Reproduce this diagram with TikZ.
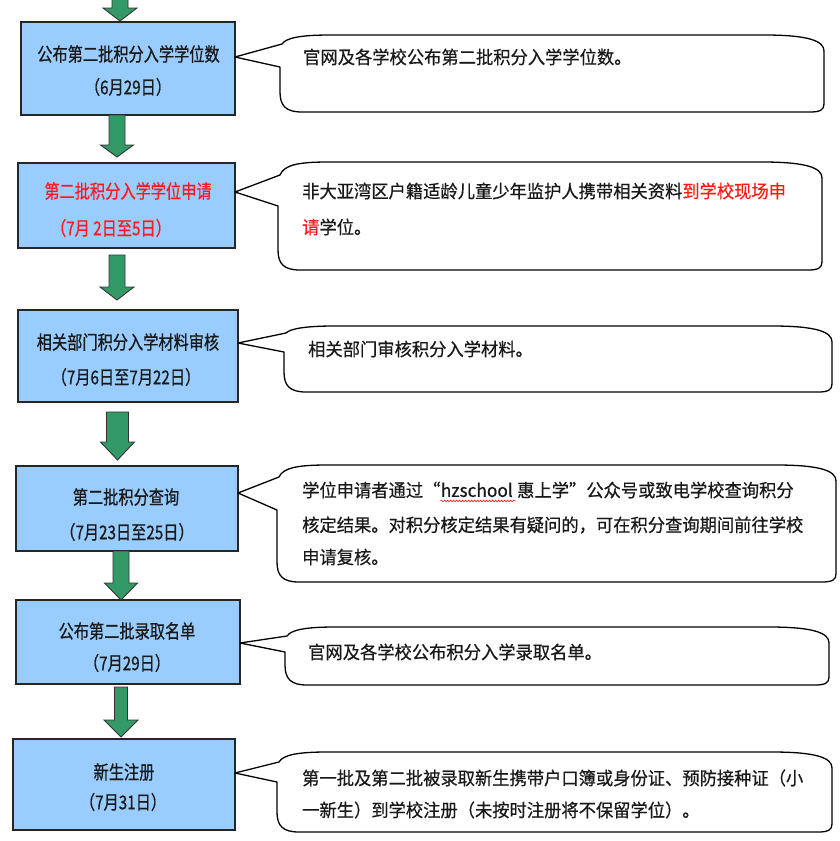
\documentclass[tikz,border=0pt]{standalone}
\usepackage{fontspec}
\setmainfont{Noto Sans CJK SC}
\newfontfamily\boxfont[FakeStretch=0.8,FakeBold=0.6]{Noto Sans CJK SC}
\newfontfamily\bubfont[FakeStretch=0.96,FakeBold=0.5]{Noto Sans CJK SC}
\usetikzlibrary{calc,decorations.pathmorphing}
\definecolor{boxblue}{HTML}{99CCFF}
\definecolor{arrgreen}{HTML}{339966}
\definecolor{hired}{HTML}{FF1A1A}
\tikzset{
  stepbox/.style={draw=black!85, line width=1.4pt, fill=boxblue, inner sep=0pt},
  boxtext/.style={font=\boxfont\fontsize{19}{21}\selectfont, inner sep=0pt, text=black!90},
  redtext/.style={boxtext, text=hired},
  bubtext/.style={font=\bubfont\fontsize{18}{20}\selectfont, inner sep=0pt, anchor=west, text=black!90},
  bubble/.style={draw=black, line width=1.3pt, fill=white, line join=round},
  flowfill/.style={draw=black!80, line width=0.9pt, fill=arrgreen, line join=miter},
  squiggle/.style={draw=red, line width=0.5pt, decorate, decoration={snake, amplitude=0.9pt, segment length=3pt}}
}
% block arrow: #1 start, #2 tip, #3 head length, #4 half shaft width, #5 half head width
\newcommand\drawflow[5]{%
  \path[flowfill] let \p1=(#1), \p2=(#2) in
    (\x1-#4pt,\y1) -- (\x1+#4pt,\y1) -- (\x1+#4pt,\y2+#3pt) -- (\x1+#5pt,\y2+#3pt)
    -- (\x1,\y2) -- (\x1-#5pt,\y2+#3pt) -- (\x1-#4pt,\y2+#3pt) -- cycle;}
% callout: #1 tip, #2 left, #3 right, #4 top, #5 bottom, #6 upper tail base, #7 lower tail base
\newcommand\drawbubble[7]{%
  \draw[bubble] (#1) -- ({#2+2},#6) .. controls ({#2+6},{#4+3}) and ({#2+20},#4) .. ({#2+50},#4)
    -- ({#3-60},#4) .. controls ({#3-15},#4) and (#3,{#4+6}) .. (#3,{#4+16})
    -- (#3,{#5-8}) .. controls (#3,{#5-2}) and ({#3-4},#5) .. ({#3-14},#5)
    -- ({#2+22},#5) .. controls ({#2+6},#5) and (#2,{#5-6}) .. (#2,{#5-20})
    -- (#2,#7) -- cycle;}
\begin{document}
\begin{tikzpicture}[x=1pt,y=-1pt]
\useasboundingbox (0,0) rectangle (840,841);
\fill[white] (0,0) rectangle (840,841);

% step boxes
\node[stepbox, minimum width=214pt, minimum height=93pt] (b1) at (128,68.5) {};
\node[stepbox, minimum width=217pt, minimum height=85pt] (b2) at (126.5,205.5) {};
\node[stepbox, minimum width=220pt, minimum height=92pt] (b3) at (128,356) {};
\node[stepbox, minimum width=222pt, minimum height=85pt] (b4) at (127,508.5) {};
\node[stepbox, minimum width=224pt, minimum height=84pt] (b5) at (128,642) {};
\node[stepbox, minimum width=222pt, minimum height=91pt] (b6) at (124,784.5) {};

% box texts
\node[boxtext] (t1a) at (128.5,54) {公布第二批积分入学学位数};
\node[boxtext] (t1b) at (128,87) {（6月29日）};
\node[redtext] (t2a) at (128,191) {第二批积分入学学位申请};
\node[redtext] (t2b) at (111,228) {（7月 2日至5日）};
\node[boxtext] (t3a) at (128,342) {相关部门积分入学材料审核};
\node[boxtext] (t3b) at (126,377) {（7月6日至7月22日）};
\node[boxtext] (t4a) at (126,497) {第二批积分查询};
\node[boxtext] (t4b) at (127,532) {（7月23日至25日）};
\node[boxtext] (t5a) at (127,631) {公布第二批录取名单};
\node[boxtext] (t5b) at (127,663) {（7月29日）};
\node[boxtext] (t6a) at (124,772) {新生注册};
\node[boxtext] (t6b) at (123,802) {（7月31日）};

% arrows
\coordinate (a0s) at (120,-5);  \coordinate (a0t) at (120,21);
\coordinate (a1s) at (117,115); \coordinate (a1t) at (117,157);
\coordinate (a2s) at (117,255); \coordinate (a2t) at (117,300);
\coordinate (a3s) at (117.5,412); \coordinate (a3t) at (117.5,460);
\coordinate (a4s) at (121,551); \coordinate (a4t) at (121,600);
\coordinate (a5s) at (121,687); \coordinate (a5t) at (121,737);
\drawflow{a0s}{a0t}{13}{8}{17}
\drawflow{a1s}{a1t}{12}{8}{16.5}
\drawflow{a2s}{a2t}{13}{8}{17}
\drawflow{a3s}{a3t}{18}{11}{17}
\drawflow{a4s}{a4t}{17}{8}{16.5}
\drawflow{a5s}{a5t}{17}{6.5}{17}

% callouts
\coordinate (k1) at (235,57);
\coordinate (k2) at (235,192);
\coordinate (k3) at (238,343);
\coordinate (k4) at (238,493);
\coordinate (k5) at (240,643);
\coordinate (k6) at (235,773);
\drawbubble{k1}{280}{824}{35}{112}{44}{67}
\drawbubble{k2}{278}{822}{162}{270}{175}{206}
\drawbubble{k3}{284}{832}{326}{392}{333}{352}
\drawbubble{k4}{277}{836}{465}{582}{477}{510}
\drawbubble{k5}{285}{829}{627}{685}{636}{652}
\drawbubble{k6}{277}{832}{752}{832}{762}{782}

% callout texts
\node[bubtext] (c1) at (303,57) {官网及各学校公布第二批积分入学学位数。};
\node[bubtext] (c2a) at (302,191) {非大亚湾区户籍适龄儿童少年监护人携带相关资料\textcolor{hired}{到学校现场申}};
\node[bubtext] (c2b) at (302,227) {\textcolor{hired}{请}学位。};
\node[bubtext] (c3) at (308,349) {相关部门审核积分入学材料。};
\node[bubtext] (c4a) at (302,490) {学位申请者通过“};
\node[bubtext, anchor=base west] (hz) at (c4a.base east) {hzschool};
\node[bubtext, anchor=base west] (c4b) at (hz.base east) {\hspace{4pt}惠上学”公众号或致电学校查询积分};
\draw[squiggle] ([yshift=-4pt]hz.base west) -- ([yshift=-4pt,xshift=3pt]hz.base east);
\node[bubtext] (c4c) at (302,525) {核定结果。对积分核定结果有疑问的，可在积分查询期间前往学校};
\node[bubtext] (c4d) at (302,557) {申请复核。};
\node[bubtext] (c5) at (308,652) {官网及各学校公布积分入学录取名单。};
\node[bubtext] (c6a) at (302,778) {第一批及第二批被录取新生携带户口簿或身份证、预防接种证（小};
\node[bubtext] (c6b) at (302,810) {一新生）到学校注册（未按时注册将不保留学位）。};
\end{tikzpicture}
\end{document}
